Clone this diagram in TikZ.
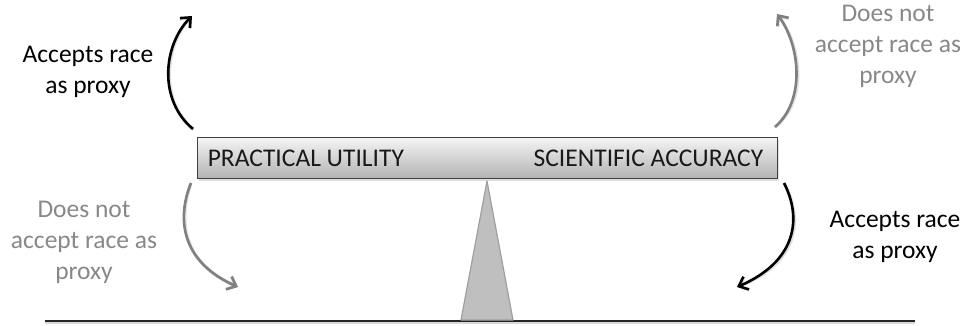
\documentclass[tikz,border=0pt]{standalone}
\usepackage{fontspec}
\setmainfont{Carlito}
\usetikzlibrary{arrows.meta,shadows}

\definecolor{labelgray}{HTML}{888888}
\definecolor{arrowgray}{HTML}{808080}
\definecolor{fulcrumfill}{HTML}{BFBFBF}
\definecolor{fulcrumedge}{HTML}{A0A0A0}

\tikzset{
  label text/.style={font=\fontsize{25.5}{31}\selectfont, align=center, inner sep=0pt},
  swing/.style={line width=2.6pt, -{Straight Barb[length=8pt,width=14pt]}},
  swing shade/.style={swing, black, opacity=0.12, line width=3.4pt, shift={(1.5,1.5)}},
  beam/.style={draw=black!75, line width=0.9pt, top color=black!4, bottom color=black!30,
    minimum width=580pt, minimum height=41pt, inner sep=0pt,
    drop shadow={shadow xshift=2pt, shadow yshift=-2pt, opacity=0.25}},
}

\begin{document}
\begin{tikzpicture}[x=1pt,y=-1pt]
  \useasboundingbox (0,0) rectangle (973,325);

  % ground line
  \coordinate (gl) at (45,321);
  \coordinate (gr) at (915,321);
  \draw[black, line width=2pt, opacity=0.15] ([yshift=-1.5pt]gl) -- ([yshift=-1.5pt]gr);
  \draw[black!85, line width=1.5pt] (gl) -- (gr);

  % fulcrum
  \coordinate (apex) at (487,181);
  \coordinate (bl) at (461,320);
  \coordinate (br) at (513,320);
  \draw[fill=fulcrumfill, draw=fulcrumedge, line width=1.2pt, line join=round] (bl) -- (apex) -- (br) -- cycle;

  % beam
  \node[beam] (beam) at (487,158) {};
  \node[font=\fontsize{25.5}{31}\selectfont, text=black!90, anchor=west, inner sep=0pt] (pu) at ([xshift=11pt]beam.west) {PRACTICAL UTILITY};
  \node[font=\fontsize{25.5}{31}\selectfont, text=black!90, anchor=east, inner sep=0pt] (sa) at ([xshift=-14pt]beam.east) {SCIENTIFIC ACCURACY};

  % labels
  \node[label text, text=black] (tl) at (88,72) {Accepts race\\as proxy};
  \node[label text, text=labelgray] (tr) at (888,46) {Does not\\accept race as\\proxy};
  \node[label text, text=labelgray] (bll) at (84,242) {Does not\\accept race as\\proxy};
  \node[label text, text=black] (brl) at (895,237) {Accepts race\\as proxy};

  % swing arrows
  \coordinate (tls) at (193,129);
  \coordinate (tle) at (192,16);
  \coordinate (trs) at (775,127);
  \coordinate (tre) at (777,14);
  \coordinate (bls) at (191,183);
  \coordinate (ble) at (238,287);
  \coordinate (brs) at (784,183);
  \coordinate (bre) at (737,287);

  % soft shadows under the arrows
  \draw[swing shade] (tls) .. controls (158,100) and (163,45) .. (tle);
  \draw[swing shade] (trs) .. controls (806,100) and (800,45) .. (tre);
  \draw[swing shade] (bls) .. controls (176,220) and (182,262) .. (ble);
  \draw[swing shade] (brs) .. controls (803,220) and (795,262) .. (bre);

  \draw[swing, black] (tls) .. controls (158,100) and (163,45) .. (tle);
  \draw[swing, arrowgray] (trs) .. controls (806,100) and (800,45) .. (tre);
  \draw[swing, arrowgray] (bls) .. controls (176,220) and (182,262) .. (ble);
  \draw[swing, black] (brs) .. controls (803,220) and (795,262) .. (bre);
\end{tikzpicture}
\end{document}
